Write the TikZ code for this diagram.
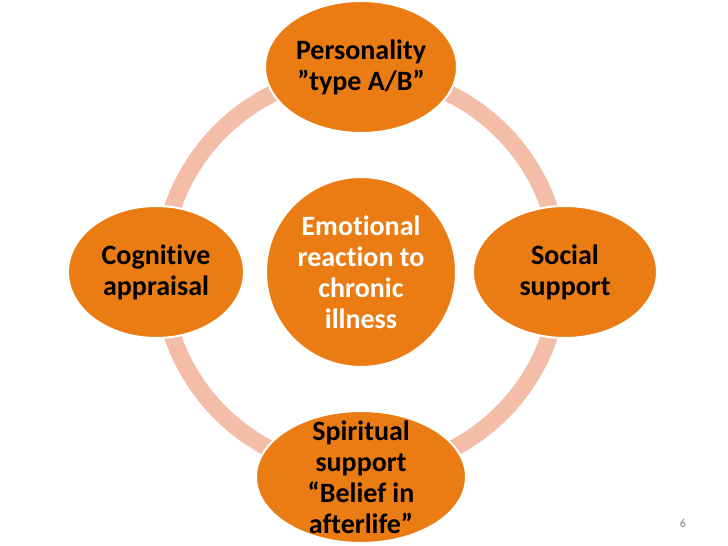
\documentclass[tikz,border=0pt]{standalone}
\usepackage{fontspec}
\setmainfont[Ligatures=NoCommon]{Carlito}
\usetikzlibrary{shapes.geometric,positioning}

\definecolor{cycleorange}{HTML}{EA7C13}
\definecolor{ringpink}{HTML}{F4BDA8}

\begin{document}
\begin{tikzpicture}[
    x=1pt, y=1pt,
    hub/.style={circle, draw=white, fill=cycleorange, line width=2pt,
                minimum size=190pt, inner sep=-4pt, align=center,
                text=white, font=\fontsize{28}{31}\selectfont\bfseries},
    sat/.style={ellipse, draw=white, fill=cycleorange, line width=2pt,
                minimum height=132pt, inner sep=-20pt, align=center,
                text=black, font=\fontsize{28}{31}\selectfont\bfseries},
    ring/.style={draw=ringpink, line width=17pt},
    pagenum/.style={text=gray, font=\fontsize{12}{14}\selectfont}
]
    \useasboundingbox (0,0) rectangle (728,546);
    \clip (0,0) rectangle (728,546);

    \coordinate (mid) at (361,274);
    \draw[ring] (mid) circle (199);

    \node[hub] (hub) at (mid) {Emotional\\reaction to\\chronic\\illness};

    \node[sat, minimum width=192pt] (personality) at ([yshift=205pt]hub.center) {Personality\\”type A/B”};
    \node[sat, minimum width=176pt] (cognitive) at ([xshift=-205pt]hub.center) {Cognitive\\appraisal};
    \node[sat, minimum width=184pt] (social) at ([xshift=204pt]hub.center) {Social\\support};
    \node[sat, minimum width=210pt] (spiritual) at ([yshift=-205pt]hub.center) {Spiritual\\support\\“Belief in\\afterlife”};

    \node[pagenum] (page) at (683,23) {6};
\end{tikzpicture}
\end{document}
